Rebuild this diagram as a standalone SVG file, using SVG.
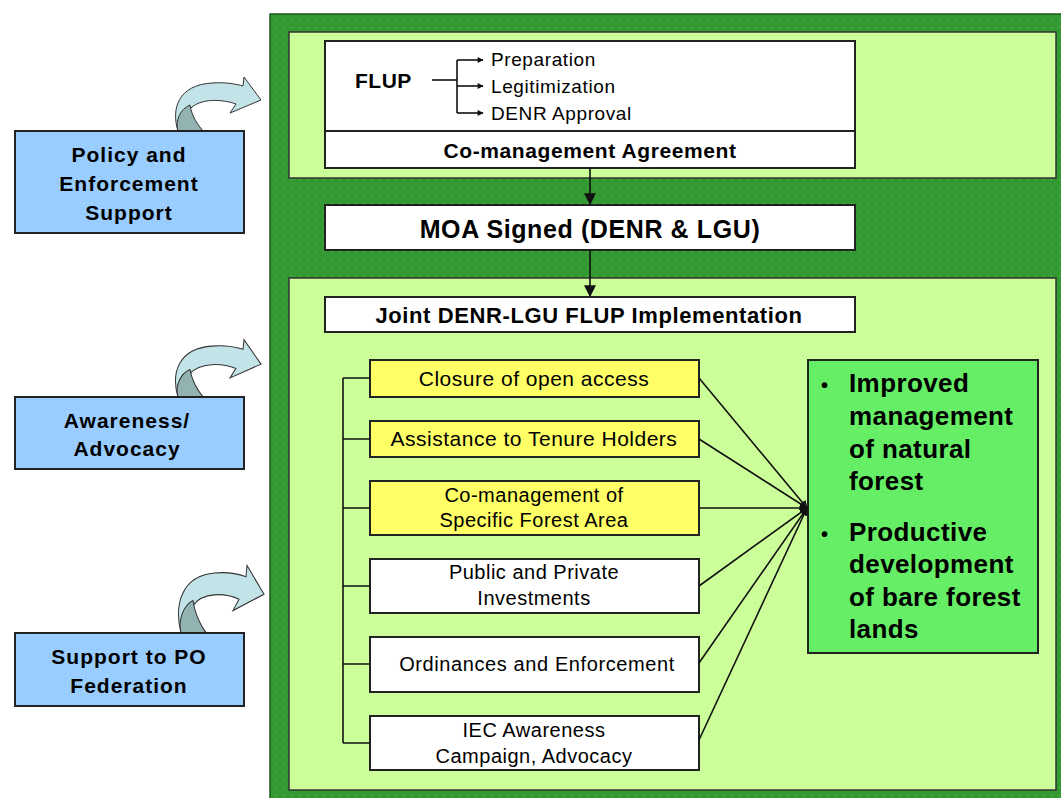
<svg xmlns="http://www.w3.org/2000/svg" width="1061" height="798" viewBox="0 0 1061 798">
<style>
text{font-family:"Liberation Sans",Arial,sans-serif;fill:#000}
.b{font-weight:bold}
.box{stroke:#222;stroke-width:2}
.ln{stroke:#111;stroke-width:1.6;fill:none}
.mid{text-anchor:middle}
</style>
<defs>
<pattern id="pd" width="8" height="8" patternUnits="userSpaceOnUse"><rect width="8" height="8" fill="#339933"/><rect x="3" y="3" width="1" height="1" fill="#66bb55"/></pattern>
<pattern id="pl" width="8" height="8" patternUnits="userSpaceOnUse"><rect width="8" height="8" fill="#ccff99"/><rect x="3" y="3" width="1" height="1" fill="#a8ee88"/></pattern>
<pattern id="pb" width="8" height="8" patternUnits="userSpaceOnUse"><rect width="8" height="8" fill="#99ccff"/><rect x="3" y="3" width="1" height="1" fill="#bfe6ff"/></pattern>
<pattern id="pg" width="8" height="8" patternUnits="userSpaceOnUse"><rect width="8" height="8" fill="#66ee66"/><rect x="3" y="3" width="1" height="1" fill="#44dd44"/></pattern>
<marker id="ah" viewBox="0 0 10 10" refX="9" refY="5" markerWidth="8" markerHeight="8" markerUnits="userSpaceOnUse" orient="auto"><path d="M0,0 L10,5 L0,10 Z" fill="#111"/></marker>
<marker id="ahs" viewBox="0 0 10 10" refX="9" refY="5" markerWidth="7" markerHeight="6" markerUnits="userSpaceOnUse" orient="auto"><path d="M0,0 L10,5 L0,10 Z" fill="#111"/></marker>
<marker id="ahb" viewBox="0 0 10 10" refX="9" refY="5" markerWidth="12" markerHeight="12" markerUnits="userSpaceOnUse" orient="auto"><path d="M0,0 L10,5 L0,10 Z" fill="#111"/></marker>
<g id="carrow">
<path d="M178,0 C171,-22 178,-46 212,-48 C225,-49 236,-47 243,-45 L244,-54 L261,-31 L230,-18 L236,-27 C222,-32 200,-33 190,-22 C193,-12 198,-5 203,0 Z" fill="#c2e4e8" stroke="#333" stroke-width="1"/>
<path d="M178,0 C175,-10 180,-22 190,-26 C192,-14 198,-6 203,0 Z" fill="#93b3b3" stroke="#333" stroke-width="1"/>
</g>
</defs>
<rect width="1061" height="798" fill="#fff"/>

<g id="background">
<rect x="270" y="14" width="800" height="790" fill="url(#pd)" stroke="#1c5a1c" stroke-width="1.5"/>
<rect x="289" y="32" width="767" height="146" fill="url(#pl)" stroke="#333" stroke-width="1.5"/>
<rect x="289" y="278" width="767" height="512" fill="url(#pl)" stroke="#333" stroke-width="1.5"/>
</g>

<g id="side-arrows">
<use href="#carrow" transform="translate(0,131)"/>
<use href="#carrow" transform="translate(0,397) scale(1,1.06)"/>
<use href="#carrow" transform="translate(3,633) scale(1,1.25)"/>
</g>

<g id="policy">
<rect class="box" x="15" y="131" width="229" height="102" fill="url(#pb)"/>
<text class="b mid" x="129" y="162" font-size="21" letter-spacing="1">Policy and</text>
<text class="b mid" x="129" y="191" font-size="21" letter-spacing="1">Enforcement</text>
<text class="b mid" x="129" y="220" font-size="21" letter-spacing="1">Support</text>
</g>
<g id="awareness">
<rect class="box" x="15" y="397" width="229" height="72" fill="url(#pb)"/>
<text class="b mid" x="127" y="428" font-size="21" letter-spacing="1">Awareness/</text>
<text class="b mid" x="127" y="456" font-size="21" letter-spacing="1">Advocacy</text>
</g>
<g id="po-support">
<rect class="box" x="15" y="633" width="229" height="73" fill="url(#pb)"/>
<text class="b mid" x="129" y="664" font-size="21" letter-spacing="1">Support to PO</text>
<text class="b mid" x="129" y="693" font-size="21" letter-spacing="1">Federation</text>
</g>

<g id="flup">
<rect class="box" x="325" y="41" width="530" height="90" fill="#fff"/>
<text class="b" x="355" y="88" font-size="21" letter-spacing="0.5">FLUP</text>
<text x="491" y="66" font-size="19" letter-spacing="0.6">Preparation</text>
<text x="491" y="93" font-size="19" letter-spacing="0.6">Legitimization</text>
<text x="491" y="120" font-size="19" letter-spacing="0.6">DENR Approval</text>
</g>
<g id="comanagement-agreement">
<rect class="box" x="325" y="131" width="530" height="37" fill="#fff"/>
<text class="b mid" x="590" y="158" font-size="21" letter-spacing="0.6">Co-management Agreement</text>
</g>
<g id="moa">
<rect class="box" x="325" y="205" width="530" height="45" fill="#fff"/>
<text class="b mid" x="590" y="238" font-size="25" letter-spacing="0.6">MOA Signed (DENR &amp; LGU)</text>
</g>
<g id="joint">
<rect class="box" x="325" y="297" width="530" height="35" fill="#fff"/>
<text class="b mid" x="589" y="323" font-size="22" letter-spacing="0.6">Joint DENR-LGU FLUP Implementation</text>
</g>

<g id="closure">
<rect class="box" x="370" y="360" width="329" height="37" fill="#ffff66"/>
<text class="mid" x="534" y="386" font-size="21" letter-spacing="0.5">Closure of open access</text>
</g>
<g id="assistance">
<rect class="box" x="370" y="421" width="329" height="36" fill="#ffff66"/>
<text class="mid" x="534" y="446" font-size="21" letter-spacing="0.5">Assistance to Tenure Holders</text>
</g>
<g id="comanagement-area">
<rect class="box" x="370" y="481" width="329" height="54" fill="#ffff66"/>
<text class="mid" x="534" y="502" font-size="20" letter-spacing="0.5">Co-management of</text>
<text class="mid" x="534" y="527" font-size="20" letter-spacing="0.5">Specific Forest Area</text>
</g>
<g id="investments">
<rect class="box" x="370" y="559" width="329" height="54" fill="#fff"/>
<text class="mid" x="534" y="579" font-size="20" letter-spacing="0.5">Public and Private</text>
<text class="mid" x="534" y="605" font-size="20" letter-spacing="0.5">Investments</text>
</g>
<g id="ordinances">
<rect class="box" x="370" y="637" width="329" height="55" fill="#fff"/>
<text class="mid" x="537" y="671" font-size="20" letter-spacing="0.6">Ordinances and Enforcement</text>
</g>
<g id="iec">
<rect class="box" x="370" y="716" width="329" height="54" fill="#fff"/>
<text class="mid" x="534" y="737" font-size="20" letter-spacing="0.5">IEC Awareness</text>
<text class="mid" x="534" y="763" font-size="20" letter-spacing="0.5">Campaign, Advocacy</text>
</g>

<g id="outcomes">
<rect class="box" x="808" y="360" width="230" height="293" fill="url(#pg)"/>
<g class="b" font-size="26" letter-spacing="0.4">
<text x="821" y="392" font-size="20">•</text>
<text x="849" y="392">Improved</text>
<text x="849" y="425">management</text>
<text x="849" y="458">of natural</text>
<text x="849" y="490">forest</text>
<text x="821" y="541" font-size="20">•</text>
<text x="849" y="541">Productive</text>
<text x="849" y="573">development</text>
<text x="849" y="606">of bare forest</text>
<text x="849" y="638">lands</text>
</g>
</g>

<g id="connectors">
<path class="ln" d="M432,80 H457"/>
<path class="ln" d="M457,60 V113"/>
<path class="ln" d="M457,60 H483" marker-end="url(#ahs)"/>
<path class="ln" d="M457,86 H483" marker-end="url(#ahs)"/>
<path class="ln" d="M457,113 H483" marker-end="url(#ahs)"/>
<path class="ln" d="M590,168 V204" stroke-width="2.5" marker-end="url(#ahb)"/>
<path class="ln" d="M590,250 V296" stroke-width="2.5" marker-end="url(#ahb)"/>
<path class="ln" d="M343,378 V743" stroke-width="2"/>
<path class="ln" d="M343,378 H370 M343,439 H370 M343,508 H370 M343,586 H370 M343,664 H370 M343,743 H370" stroke-width="2"/>
<path class="ln" d="M699,378 L807,508" marker-end="url(#ah)"/>
<path class="ln" d="M699,439 L807,508" marker-end="url(#ah)"/>
<path class="ln" d="M699,508 L807,508" marker-end="url(#ah)"/>
<path class="ln" d="M699,586 L807,508" marker-end="url(#ah)"/>
<path class="ln" d="M699,663 L807,508" marker-end="url(#ah)"/>
<path class="ln" d="M699,740 L807,508" marker-end="url(#ah)"/>
</g>
</svg>
